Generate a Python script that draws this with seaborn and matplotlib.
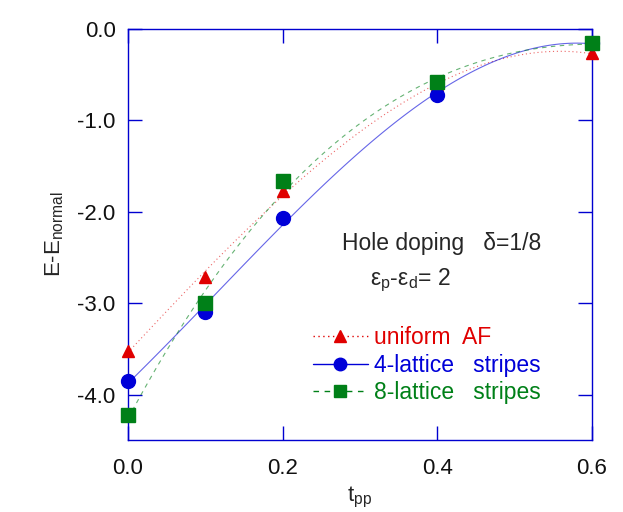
import numpy as np
import pandas as pd
import matplotlib
matplotlib.use('Agg')
import matplotlib.pyplot as plt
from matplotlib.lines import Line2D
import seaborn as sns

# ---- data ----
t_pp = [0.0, 0.1, 0.2, 0.4, 0.6]
uniform_af = [-3.52, -2.71, -1.77, -0.62, -0.27]
stripes_4 = [-3.85, -3.10, -2.07, -0.72, -0.16]
stripes_8 = [-4.22, -3.00, -1.67, -0.58, -0.16]

series_names = ['uniform  AF', '4-lattice   stripes', '8-lattice   stripes']
x_ticks = [0.0, 0.2, 0.4, 0.6]
y_ticks = [0.0, -1.0, -2.0, -3.0, -4.0]

colors = ['#e00000', '#0000d8', '#008018']
markers = ['^', 'o', 's']
msizes = [9, 10, 10]
linestyles = [(0, (1, 2.5)), '-', (0, (4, 4))]

sns.set_style('ticks')
plt.rcParams['font.family'] = ['Liberation Sans', 'DejaVu Sans']
plt.rcParams['mathtext.fontset'] = 'custom'
plt.rcParams['mathtext.rm'] = 'Liberation Sans'
plt.rcParams['mathtext.it'] = 'Liberation Sans'

df = pd.DataFrame({'t': t_pp * 3,
                   'E': uniform_af + stripes_4 + stripes_8,
                   'series': np.repeat(series_names, len(t_pp))})

fig = plt.figure(figsize=(6.23, 5.12), dpi=100)
ax = fig.add_axes([0.2055, 0.140, 0.7445, 0.804])

# fitted curves (cubic) through each series
for name, c, ls in zip(series_names, colors, linestyles):
    sub = df[df['series'] == name]
    sns.regplot(data=sub, x='t', y='E', order=3, ci=None, scatter=False, ax=ax,
                line_kws=dict(color=c, lw=0.8, ls=ls, alpha=0.6))

# markers
for name, c, m, ms in zip(series_names, colors, markers, msizes):
    sub = df[df['series'] == name]
    ax.plot(sub['t'], sub['E'], ls='none', marker=m, ms=ms, color=c,
            clip_on=False, zorder=5)

ax.set_xlim(0, 0.6)
ax.set_ylim(-4.5, 0)
ax.set_xticks(x_ticks)
ax.set_xticklabels([f'{v:.1f}' for v in x_ticks])
ax.set_yticks(y_ticks)
ax.set_yticklabels([f'{v:.1f}' for v in y_ticks])

for sp in ax.spines.values():
    sp.set_visible(True)
    sp.set_color('#0000d0')
    sp.set_linewidth(1.0)
ax.tick_params(direction='in', length=10, width=1, color='#0000d0',
               top=True, right=True, labelsize=16, labelcolor='#111111')
ax.tick_params(axis='x', pad=13)
ax.tick_params(axis='y', pad=9)

ax.set_xlabel(r't$_{\mathregular{pp}}$', fontsize=16, labelpad=4)
ax.set_ylabel(r'E-E$_{\mathregular{normal}}$', fontsize=16, labelpad=8)

ax.text(0.4615, 0.479, 'Hole doping   \u03b4=1/8', transform=ax.transAxes,
        fontsize=16.5, va='center', ha='left')
ax.text(0.522, 0.389, r'$\mathregular{\varepsilon_{p}}$-$\mathregular{\varepsilon_{d}}$= 2',
        transform=ax.transAxes, fontsize=16.5, va='center', ha='left')

handles = [Line2D([], [], color=c, marker=m, ms=ms - 1, lw=1, ls=ls)
           for c, m, ms, ls in zip(colors, markers, msizes, linestyles)]
leg = ax.legend(handles, series_names, loc='upper left',
                bbox_to_anchor=(0.378, 0.30), frameon=False, fontsize=16.5,
                handlelength=2.4, handletextpad=0.3, labelspacing=0.2,
                borderaxespad=0, labelcolor='linecolor')

fig.savefig('out.png', dpi=100)
